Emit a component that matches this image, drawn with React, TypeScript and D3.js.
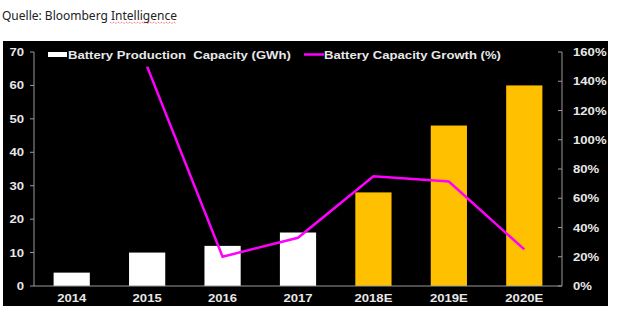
import React from "react";
import * as d3 from "d3";

const categories = ["2014", "2015", "2016", "2017", "2018E", "2019E", "2020E"];
const capacity = [4, 10, 12, 16, 28, 48, 60];
const growth = [null, 150, 20, 33, 75, 71.4, 25];
const estimated = [false, false, false, false, true, true, true];
const leftTicks = [0, 10, 20, 30, 40, 50, 60, 70];
const rightTicks = [0, 20, 40, 60, 80, 100, 120, 140, 160];
const legendLabels = ["Battery Production  Capacity (GWh)", "Battery Capacity Growth (%)"];
const sourceText = "Quelle: Bloomberg ";
const sourceText2 = "Intelligence";

const font = "'Liberation Sans', Arial, sans-serif";
const txtCol = "#e8e8e8";

function T({ x, y, anchor = "start", sx = 1.14, children }: { x: number; y: number; anchor?: string; sx?: number; children: React.ReactNode }) {
  return (
    <text transform={`translate(${x},${y}) scale(${sx},1)`} textAnchor={anchor} fontFamily={font} fontWeight="bold" fontSize={11.5} fill={txtCol} style={{ whiteSpace: "pre" }}>
      {children}
    </text>
  );
}

export default function App() {
  const W = 629, H = 329;
  const plotL = 34, plotR = 562, plotT = 52, plotB = 286;
  const x = d3.scaleBand().domain(categories).range([plotL, plotR]).paddingInner(0.52).paddingOuter(0.26);
  const yL = d3.scaleLinear().domain([0, 70]).range([plotB, plotT]);
  const yR = d3.scaleLinear().domain([0, 160]).range([plotB, plotT]);
  const pts = categories.map((c, i) => ({ c, v: growth[i] })).filter((d) => d.v !== null) as { c: string; v: number }[];
  const line = d3.line<{ c: string; v: number }>().x((d) => (x(d.c) as number) + x.bandwidth() / 2).y((d) => yR(d.v));
  const axisCol = "#9a9a9a";
  const sqX0 = 110, sqX1 = 176, sqY = 22;
  let sq = `M${sqX0},${sqY}`;
  for (let xx = sqX0, k = 0; xx < sqX1; xx += 2, k++) sq += ` L${xx + 2},${sqY + (k % 2 === 0 ? 1.5 : 0)}`;
  return (
    <svg width={W} height={H} style={{ position: "absolute", left: 0, top: 0, background: "#fff" }}>
      <text x={2} y={20} fontFamily="'Noto Sans', sans-serif" fontSize={12} fill="#222">
        {sourceText}
        <tspan>{sourceText2}</tspan>
      </text>
      <path d={sq} fill="none" stroke="#e03030" strokeWidth={0.8} strokeDasharray="1,1" />
      <rect x={3} y={41} width={605} height={265} fill="#000" />
      {categories.map((c, i) => (
        <rect key={c} x={x(c)} y={yL(capacity[i])} width={x.bandwidth()} height={plotB - yL(capacity[i])} fill={estimated[i] ? "#FFC000" : "#FFFFFF"} />
      ))}
      <line x1={plotL} x2={plotL} y1={plotT} y2={plotB} stroke={axisCol} strokeWidth={1} />
      <line x1={plotR} x2={plotR} y1={plotT} y2={plotB} stroke={axisCol} strokeWidth={1} />
      <line x1={plotL} x2={plotR} y1={plotB} y2={plotB} stroke={axisCol} strokeWidth={1} />
      {leftTicks.map((t) => (
        <g key={"l" + t}>
          <line x1={plotL - 4} x2={plotL} y1={yL(t)} y2={yL(t)} stroke={axisCol} />
          <T x={24} y={yL(t) + 4} anchor="end">{t}</T>
        </g>
      ))}
      {rightTicks.map((t) => (
        <g key={"r" + t}>
          <line x1={plotR - 4} x2={plotR} y1={yR(t)} y2={yR(t)} stroke={axisCol} />
          <T x={573} y={yR(t) + 4}>{t}%</T>
        </g>
      ))}
      {categories.map((c) => (
        <T key={"x" + c} x={(x(c) as number) + x.bandwidth() / 2} y={302} anchor="middle">{c}</T>
      ))}
      <path d={line(pts) || ""} fill="none" stroke="#FF00FF" strokeWidth={2.5} strokeLinejoin="miter" />
      <rect x={48} y={52} width={19} height={5} fill="#fff" />
      <T x={68} y={59}>{legendLabels[0]}</T>
      <line x1={304} x2={324} y1={54.5} y2={54.5} stroke="#FF00FF" strokeWidth={2.5} />
      <T x={324} y={59}>{legendLabels[1]}</T>
    </svg>
  );
}
